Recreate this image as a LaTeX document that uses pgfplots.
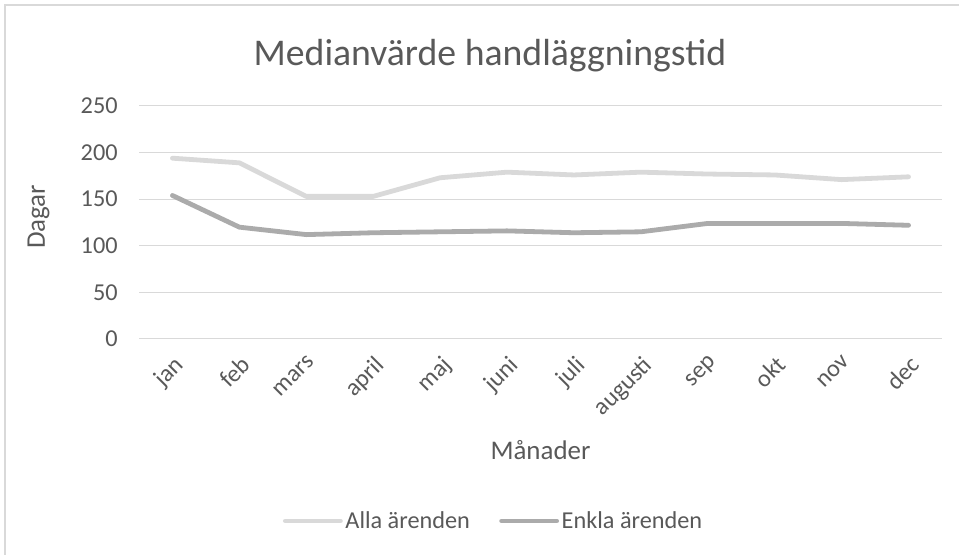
\documentclass[border=0pt]{standalone}
\usepackage{fontspec}
\setmainfont{Carlito}
\usepackage{pgfplots}
\pgfplotsset{compat=1.18}
\definecolor{txt}{HTML}{595959}
\definecolor{gridc}{HTML}{D9D9D9}
\definecolor{alla}{HTML}{D9D9D9}
\definecolor{enkla}{HTML}{ABABAB}
\begin{document}
\begin{tikzpicture}
\path[use as bounding box] (0pt,0pt) rectangle (719.25pt,416.25pt);
\draw[gridc, line width=1pt] (3.75pt,0pt) -- (3.75pt,412.5pt) -- (719.25pt,412.5pt);
\begin{axis}[
  at={(104.25pt,162pt)}, anchor=south west,
  scale only axis, width=602.25pt, height=174.75pt,
  xmin=-0.5, xmax=11.5, ymin=0, ymax=250,
  xtick={0,...,11},
  xticklabels={jan,feb,mars,april,maj,juni,juli,augusti,sep,okt,nov,dec},
  ytick={0,50,...,250},
  ymajorgrids, major grid style={gridc, line width=0.75pt},
  axis line style={draw=none}, tick style={draw=none},
  clip=false,
  /pgf/number format/assume math mode=true,
  ticklabel style={font=\fontsize{18.2}{20}\selectfont, text=txt},
  yticklabel style={anchor=east, xshift=-12.5pt},
  xticklabel style={rotate=45, anchor=north east, xshift=-4.5pt, yshift=-5pt},
  title={Medianvärde handläggningstid},
  title style={at={(axis description cs:0.437,1.14)}, anchor=base, font=\fontsize{28.3}{32}\selectfont, text=txt},
  xlabel={Månader},
  xlabel style={at={(axis description cs:0.5,-0.519)}, anchor=base, font=\fontsize{20.2}{22}\selectfont, text=txt},
  ylabel={Dagar},
  ylabel style={at={(axis description cs:-0.125,0.524)}, anchor=center, rotate=0, font=\fontsize{20.2}{22}\selectfont, text=txt},
  legend style={at={(axis description cs:0.442,-0.781)}, anchor=center, draw=none, font=\fontsize{18.2}{20}\selectfont, text=txt, legend columns=2, /tikz/every even column/.append style={column sep=20pt}},
  legend image code/.code={\draw[#1, line cap=round] (0cm,0cm) -- (1.45cm,0cm);},
  every axis plot/.append style={line width=3.6pt, line cap=round, line join=round},
]
\addplot[alla, mark=none] coordinates {(0,194) (1,189) (2,153) (3,153) (4,173) (5,179) (6,176) (7,179) (8,177) (9,176) (10,171) (11,174)};
\addlegendentry{Alla ärenden}
\addplot[enkla, mark=none] coordinates {(0,154) (1,120) (2,112) (3,114) (4,115) (5,116) (6,114) (7,115) (8,124) (9,124) (10,124) (11,122)};
\addlegendentry{Enkla ärenden}
\end{axis}
\end{tikzpicture}
\end{document}
